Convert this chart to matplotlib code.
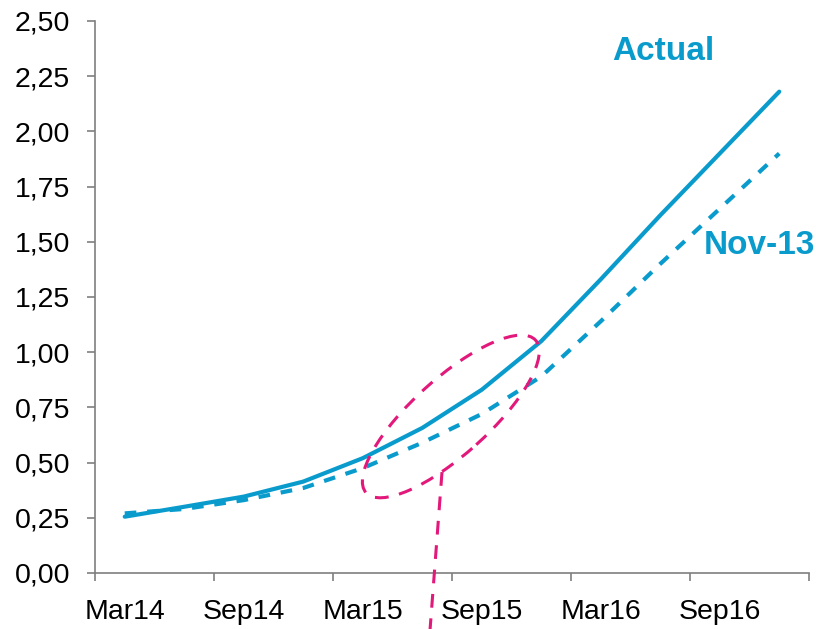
import matplotlib
matplotlib.use("Agg")
import matplotlib.pyplot as plt
import numpy as np
from matplotlib.patches import Ellipse
from matplotlib.transforms import Affine2D, ScaledTranslation

plt.rcParams['font.family'] = ['Liberation Sans', 'DejaVu Sans']

# quarterly observations (Mar14 ... Dec16)
actual = [0.255, 0.30, 0.346, 0.414, 0.52, 0.657, 0.83, 1.05, 1.33, 1.62, 1.90, 2.18]
nov13 = [0.27, 0.29, 0.33, 0.385, 0.475, 0.59, 0.72, 0.89, 1.14, 1.40, 1.65, 1.90]
period_labels = ['Mar14', 'Sep14', 'Mar15', 'Sep15', 'Mar16', 'Sep16']
y_ticks = [0, 0.25, 0.5, 0.75, 1.0, 1.25, 1.5, 1.75, 2.0, 2.25, 2.5]

blue = '#0A9BCD'
pink = '#E2187A'

fig = plt.figure(figsize=(8.16, 6.29), dpi=100)
ax = fig.add_axes([95/816, 1-573/629, (809-95)/816, (573-21)/629])

x = np.arange(len(actual))
ax.plot(x, actual, color=blue, lw=3.0, solid_capstyle='round', zorder=3)
ax.plot(x, nov13, color=blue, lw=3.0, dashes=(2.8, 2.6), zorder=3)

ax.set_xlim(-0.5, len(actual) - 0.5)
ax.set_ylim(0, 2.5)

# x ticks: marks between half-year groups, labels at the first quarter of each group
ax.set_xticks(np.arange(-0.5, len(actual), 2))
ax.set_xticklabels([])
ax.set_xticks(np.arange(0, len(actual), 2), minor=True)
ax.set_xticklabels(period_labels, minor=True)
ax.tick_params(axis='x', which='minor', length=0, pad=19, labelsize=20.5)
ax.tick_params(axis='x', which='major', length=6, width=1.2, color='#7f7f7f', direction='out')

ax.set_yticks(y_ticks)
ax.set_yticklabels([f"{v:.2f}".replace('.', ',') for v in y_ticks])
ax.tick_params(axis='y', length=6, width=1.2, color='#7f7f7f', labelsize=20.5, pad=12)

for s in ['top', 'right']:
    ax.spines[s].set_visible(False)
for s in ['left', 'bottom']:
    ax.spines[s].set_color('#7f7f7f')
    ax.spines[s].set_linewidth(1.2)

# series labels
ax.text(0.724, 0.944, 'Actual', transform=ax.transAxes, color=blue,
        fontsize=24, fontweight='bold', va='center', ha='left')
ax.text(0.852, 0.594, 'Nov-13', transform=ax.transAxes, color=blue,
        fontsize=24, fontweight='bold', va='center', ha='left')

# pink dashed ellipse (sized in pixels, centred in data coordinates)
cx, cy = 5.48, 0.709
tr = Affine2D().scale(114, 38).rotate_deg(42) + ScaledTranslation(cx, cy, ax.transData)
ell = Ellipse((0, 0), 2, 2, transform=tr, fill=False, edgecolor=pink, lw=2.2,
              linestyle=(0, (4.5, 3.5)), zorder=4)
ax.add_patch(ell)

# pink dashed pointer line going below the axis
ax.plot([5.332, 5.13], [0.457, -0.26], color=pink, lw=2.2, dashes=(4.5, 3.5),
        clip_on=False, zorder=4)

fig.savefig('out.png', dpi=100)
